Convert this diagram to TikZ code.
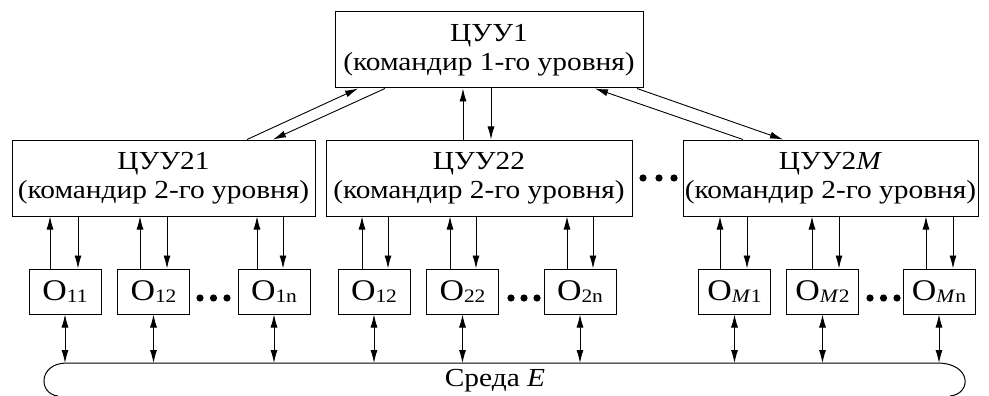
\documentclass[tikz,border=0pt]{standalone}
\usepackage{fontspec}
\setmainfont{Liberation Serif}[FakeStretch=1.13]
\usetikzlibrary{arrows.meta}
\newcommand\Osub[1]{{\fontsize{30}{30}\selectfont O}\raisebox{-2pt}{\fontsize{19}{19}\selectfont #1}}
\begin{document}
\begin{tikzpicture}[x=1pt,y=-1pt,
  every node/.style={inner sep=0pt},
  bigbox/.style={draw,line width=1pt,minimum height=76pt,align=center,font=\fontsize{26}{29}\selectfont},
  obox/.style={draw,line width=1pt,minimum width=72pt,minimum height=45pt},
  arr/.style={line width=0.9pt,-{Latex[length=13pt,width=7pt]}},
  arrtwo/.style={line width=0.9pt,{Latex[length=13pt,width=7pt]}-{Latex[length=13pt,width=7pt]}},
  plain/.style={line width=1pt}]
\useasboundingbox (0,0) rectangle (989,396);
% boxes
\node[bigbox,minimum width=308pt] (top) at (489,50) {ЦУУ1\\(командир 1-го уровня)};
\node[bigbox,minimum width=303pt] (b21) at (163.5,178) {ЦУУ21\\(командир 2-го уровня)};
\node[bigbox,minimum width=306pt] (b22) at (479,178) {ЦУУ22\\(командир 2-го уровня)};
\node[bigbox,minimum width=295pt] (b2m) at (830.5,178) {ЦУУ2\textit{M}\\(командир 2-го уровня)};
\node[obox] (o11) at (65,291.5) {\Osub{11}};
\node[obox] (o12) at (153.5,291.5) {\Osub{12}};
\node[obox] (o1n) at (274,291.5) {\Osub{1n}};
\node[obox] (o21) at (374,291.5) {\Osub{12}};
\node[obox] (o22) at (462.5,291.5) {\Osub{22}};
\node[obox] (o2n) at (580,291.5) {\Osub{2n}};
\node[obox] (om1) at (734.5,291.5) {\Osub{\textit{M}1}};
\node[obox] (om2) at (822.5,291.5) {\Osub{\textit{M}2}};
\node[obox] (omn) at (939,291.5) {\Osub{\textit{M}n}};
% dots
\foreach \x in {643,659,674} \fill (\x,178) circle (3.6);
\foreach \x in {200,213.5,227,511,524,537,870,883.5,897} \fill (\x,298) circle (3.6);
% top-level connectors
\draw[arr] (b21.north -| 247,0) -- (top.south -| 358,0);
\draw[arr] (top.south -| 385,0) -- (b21.north -| 273,0);
\draw[arr] (b22.north -| 463,0) -- (top.south -| 463,0);
\draw[arr] (top.south -| 491,0) -- (b22.north -| 491,0);
\draw[arr] (b2m.north -| 743,0) -- (top.south -| 595,0);
\draw[arr] (top.south -| 637,0) -- (b2m.north -| 783,0);
% second-level connectors
\foreach \o/\p/\u/\d in {o11/b21/50/78, o12/b21/140/167, o1n/b21/257/283,
   o21/b22/362/388, o22/b22/450/476, o2n/b22/567/593,
   om1/b2m/720/747, om2/b2m/812/839, omn/b2m/926/953} {
  \draw[arr] (\o.north -| \u,0) -- (\p.south -| \u,0);
  \draw[arr] (\p.south -| \d,0) -- (\o.north -| \d,0);
}
% environment
\coordinate (envL) at (67,363);
\coordinate (envR) at (937,363);
\draw[plain] (58,396) .. controls (38,394) and (38,363) .. (envL) -- (envR)
   .. controls (972,363) and (972,394) .. (950,396);
\node[font=\fontsize{26}{29}\selectfont] (env) at (495,381) {Среда \textit{E}};
\foreach \o in {o11,o12,o1n,o21,o22,o2n,om1,om2,omn}
  \draw[arrtwo] (\o.south) -- (\o.south |- envL);
\end{tikzpicture}
\end{document}
